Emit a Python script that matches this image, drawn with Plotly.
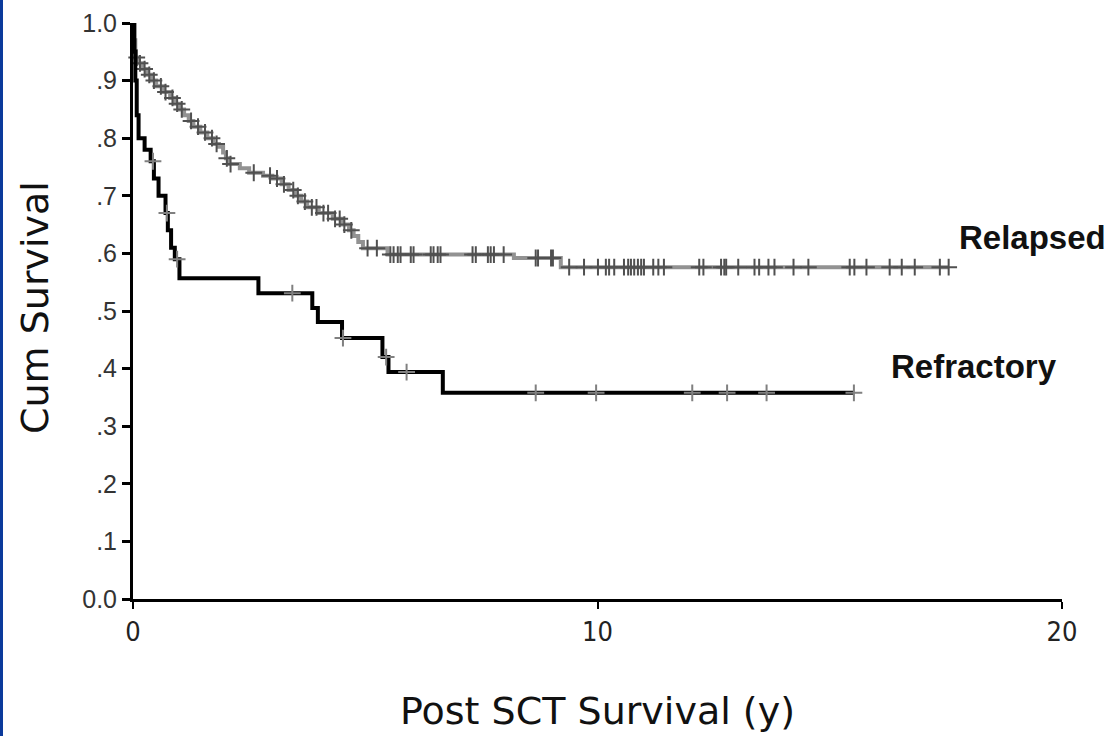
import numpy as np
import plotly.graph_objects as go

# Kaplan-Meier step data (years, cumulative survival)
relapsed_t = [0, 0.02, 0.05, 0.1, 0.2, 0.3, 0.4, 0.5, 0.65, 0.8, 0.9, 1.0, 1.1, 1.2, 1.3,
              1.45, 1.6, 1.73, 1.85, 1.94, 2.0, 2.05, 2.3, 2.5, 2.8, 3.0, 3.2, 3.35, 3.5,
              3.62, 3.75, 4.0, 4.3, 4.5, 4.65, 4.75, 4.85, 4.95, 5.48, 8.2, 9.21, 17.56]
relapsed_s = [1.0, 0.97, 0.94, 0.93, 0.92, 0.91, 0.90, 0.89, 0.88, 0.87, 0.86, 0.85, 0.84,
              0.83, 0.82, 0.81, 0.80, 0.79, 0.785, 0.775, 0.765, 0.755, 0.748, 0.74, 0.735,
              0.73, 0.72, 0.71, 0.70, 0.69, 0.68, 0.67, 0.66, 0.65, 0.64, 0.63, 0.62, 0.609,
              0.598, 0.592, 0.576, 0.576]
relapsed_censor = [0.08, 0.15, 0.25, 0.35, 0.45, 0.6, 0.7, 0.85, 0.95, 1.05, 1.25, 1.4, 1.55,
                   1.7, 1.8, 2.02, 2.1, 2.6, 2.95, 3.1, 3.25, 3.45, 3.55, 3.7, 3.85, 3.95, 4.1,
                   4.2, 4.35, 4.45, 4.55, 4.7, 5.05, 5.25,
                   5.54, 5.61, 5.70, 5.76, 5.98, 6.04, 6.41, 6.47, 6.56, 6.62, 7.31, 7.38, 7.64,
                   7.70, 7.77, 7.98, 8.67, 8.72, 9.00, 9.04, 9.39, 9.71, 10.01, 10.18, 10.25,
                   10.36, 10.57, 10.66, 10.72, 10.79, 10.87, 10.94, 11.00, 11.20, 11.31, 11.43,
                   12.19, 12.28, 12.66, 12.73, 12.77, 13.03, 13.38, 13.48, 13.68, 13.81, 14.22,
                   14.54, 15.43, 15.53, 15.79, 16.29, 16.55, 16.83, 17.37, 17.56]

refractory_t = [0, 0.03, 0.05, 0.08, 0.12, 0.25, 0.38, 0.45, 0.55, 0.70, 0.75, 0.82, 0.90,
                1.00, 2.70, 3.86, 3.98, 4.50, 5.37, 5.50, 6.67, 15.52]
refractory_s = [1.0, 0.95, 0.90, 0.84, 0.80, 0.78, 0.76, 0.73, 0.70, 0.67, 0.64, 0.61, 0.59,
                0.557, 0.531, 0.505, 0.481, 0.453, 0.42, 0.394, 0.358, 0.358]
refractory_censor = [0.43, 0.73, 0.95, 3.43, 4.52, 5.45, 5.89, 8.67, 9.97, 12.04, 12.79,
                     13.64, 15.52]

y_ticks = [0.0, 0.1, 0.2, 0.3, 0.4, 0.5, 0.6, 0.7, 0.8, 0.9, 1.0]
y_tick_labels = ["0.0", ".1", ".2", ".3", ".4", ".5", ".6", ".7", ".8", ".9", "1.0"]
x_ticks = [0, 10, 20]


def step_value(ts, ss, t):
    i = np.searchsorted(np.array(ts), t, side="right") - 1
    return ss[max(i, 0)]


fig = go.Figure()
fig.add_trace(go.Scatter(x=relapsed_t, y=relapsed_s, mode="lines", line_shape="hv",
                         line=dict(color="#929292", width=4), showlegend=False,
                         cliponaxis=False))
fig.add_trace(go.Scatter(x=relapsed_censor,
                         y=[step_value(relapsed_t, relapsed_s, t) for t in relapsed_censor],
                         mode="markers", showlegend=False, cliponaxis=False,
                         marker=dict(symbol="cross-thin", size=12,
                                     line=dict(color="#505050", width=2))))
fig.add_trace(go.Scatter(x=refractory_t, y=refractory_s, mode="lines", line_shape="hv",
                         line=dict(color="#000000", width=4), showlegend=False,
                         cliponaxis=False))
fig.add_trace(go.Scatter(x=refractory_censor,
                         y=[step_value(refractory_t, refractory_s, t) for t in refractory_censor],
                         mode="markers", showlegend=False, cliponaxis=False,
                         marker=dict(symbol="cross-thin", size=12,
                                     line=dict(color="#808080", width=2))))

fig.add_annotation(x=17.75, y=0.627, text="<b>Relapsed</b>", showarrow=False, xanchor="left",
                   yanchor="middle", font=dict(family="Liberation Sans", size=33, color="#111"))
fig.add_annotation(x=16.27, y=0.403, text="<b>Refractory</b>", showarrow=False, xanchor="left",
                   yanchor="middle", font=dict(family="Liberation Sans", size=33, color="#111"))

# axis titles placed as annotations
fig.add_annotation(xref="paper", yref="paper", x=(597 - 133) / 929, y=(599 - 711) / 576,
                   text="Post SCT Survival (y)", showarrow=False, xanchor="center",
                   yanchor="middle", font=dict(family="DejaVu Sans", size=38, color="#111"))
fig.add_annotation(xref="paper", yref="paper", x=(35 - 133) / 929, y=(599 - 308) / 576,
                   text="Cum Survival", showarrow=False, textangle=-90, xanchor="center",
                   yanchor="middle", font=dict(family="DejaVu Sans", size=38, color="#111"))

# blue strip at left edge
fig.add_shape(type="rect", xref="paper", yref="paper", x0=-133 / 929, x1=-130 / 929,
              y0=-137 / 576, y1=1 + 23 / 576, fillcolor="#0b3a9b", line=dict(width=0),
              layer="below")

fig.update_layout(
    width=1111, height=736,
    margin=dict(l=133, r=49, t=23, b=137, autoexpand=False),
    paper_bgcolor="white", plot_bgcolor="white",
    xaxis=dict(range=[0, 20], tickvals=x_ticks, showgrid=False, zeroline=False,
               showline=True, linecolor="black", linewidth=3, ticks="outside", ticklen=7,
               tickwidth=2, tickcolor="black", automargin=False,
               tickfont=dict(family="Liberation Sans Narrow, DejaVu Sans Condensed, Arial",
                             size=27, color="#222")),
    yaxis=dict(range=[0, 1.0], tickvals=y_ticks, ticktext=y_tick_labels, showgrid=False,
               zeroline=False, showline=True, linecolor="black", linewidth=3,
               ticks="outside", ticklen=8, tickwidth=3, tickcolor="black", automargin=False,
               tickfont=dict(family="Liberation Sans", size=25, color="#333")),
)

fig.write_html("out.html", config={"displayModeBar": False},
               post_script="document.body.style.margin='0';document.body.style.overflow='hidden';")
